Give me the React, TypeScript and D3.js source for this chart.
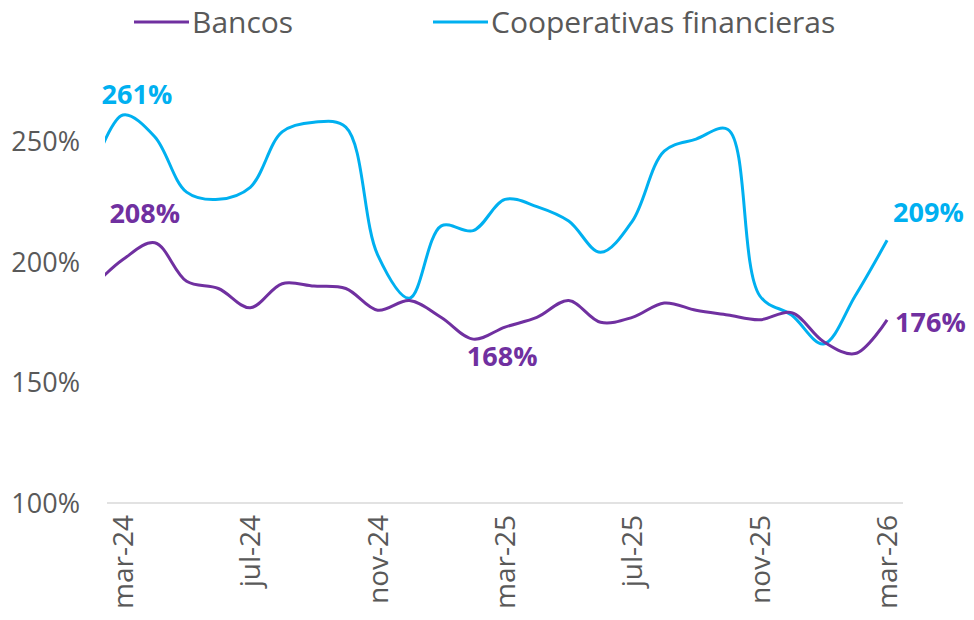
import React from "react";
import * as d3 from "d3";

const months = [
  "feb-24", "mar-24", "abr-24", "may-24", "jun-24", "jul-24", "ago-24", "sep-24", "oct-24",
  "nov-24", "dic-24", "ene-25", "feb-25", "mar-25", "abr-25", "may-25", "jun-25", "jul-25",
  "ago-25", "sep-25", "oct-25", "nov-25", "dic-25", "ene-26", "feb-26", "mar-26",
];
const bancos = [
  189, 201, 208, 192, 189, 181, 191, 190, 189, 180, 184, 177, 168, 173, 177, 184, 175, 177,
  183, 180, 178, 176, 179, 167, 162, 176,
];
const cooperativas = [
  236, 261, 252, 229, 226, 231, 254, 258, 256, 203, 185, 215, 213, 226, 223, 217, 204, 217,
  246, 251, 255, 186, 178, 166, 186, 209,
];
const tickLabels = ["mar-24", "jul-24", "nov-24", "mar-25", "jul-25", "nov-25", "mar-26"];
const yTicks = [100, 150, 200, 250];
const seriesNames = ["Bancos", "Cooperativas financieras"];
const colors = ["#7030A0", "#00B0F0"];

const W = 974;
const H = 620;
const FONT = "'Open Sans', 'DejaVu Sans', sans-serif";

export default function App() {
  const x = d3.scalePoint<string>().domain(months).range([91.06, 887.1]);
  const step = x.step();
  const y = d3.scaleLinear().domain([100, 250]).range([503, 141.5]);
  const line = d3
    .line<number>()
    .x((_, i) => x(months[i]) as number)
    .y((d) => y(d))
    .curve(d3.curveCatmullRom.alpha(0.5));

  const axisStart = (x("mar-24") as number) - step / 2;
  const axisEnd = (x("mar-26") as number) + step / 2;
  const last = months.length - 1;

  const cMaxIdx = d3.maxIndex(cooperativas.slice(0, 3));
  const bMaxIdx = d3.maxIndex(bancos.slice(0, 4));
  const bMinIdx = 12;

  const labelStyle = { fontFamily: FONT, fontWeight: 700, fontSize: 27 } as const;

  return (
    <svg
      width={W}
      height={H}
      style={{ position: "absolute", left: 0, top: 0, background: "#fff" }}
    >
      <defs>
        <clipPath id="plotclip">
          <rect x={105} y={0} width={W - 105} height={H} />
        </clipPath>
      </defs>
      {/* y tick labels */}
      {yTicks.map((t) => (
        <text
          key={t}
          x={80}
          y={y(t)}
          dy="0.37em"
          textAnchor="end"
          fill="#595959"
          style={{ fontFamily: FONT, fontSize: 27 }}
        >
          {t}%
        </text>
      ))}
      {/* x axis line */}
      <line x1={axisStart} x2={axisEnd} y1={y(100)} y2={y(100)} stroke="#D9D9D9" strokeWidth={1.5} />
      {/* x tick labels */}
      {tickLabels.map((m) => (
        <text
          key={m}
          transform={`translate(${x(m)},515) rotate(-90)`}
          dy="0.36em"
          textAnchor="end"
          fill="#595959"
          style={{ fontFamily: FONT, fontSize: 28 }}
        >
          {m}
        </text>
      ))}
      {/* lines */}
      <g clipPath="url(#plotclip)">
        <path d={line(cooperativas) || ""} fill="none" stroke={colors[1]} strokeWidth={3} />
        <path d={line(bancos) || ""} fill="none" stroke={colors[0]} strokeWidth={3} />
      </g>
      {/* data labels */}
      <text
        x={(x(months[cMaxIdx]) as number) + 14}
        y={y(cooperativas[cMaxIdx]) - 11}
        textAnchor="middle"
        fill={colors[1]}
        style={labelStyle}
      >
        {cooperativas[cMaxIdx]}%
      </text>
      <text
        x={(x(months[bMaxIdx]) as number) - 10}
        y={y(bancos[bMaxIdx]) - 20}
        textAnchor="middle"
        fill={colors[0]}
        style={labelStyle}
      >
        {bancos[bMaxIdx]}%
      </text>
      <text
        x={(x(months[bMinIdx]) as number) + 29}
        y={y(bancos[bMinIdx]) + 27}
        textAnchor="middle"
        fill={colors[0]}
        style={labelStyle}
      >
        {bancos[bMinIdx]}%
      </text>
      <text
        x={(x(months[last]) as number) + 6}
        y={y(cooperativas[last]) - 18}
        textAnchor="start"
        fill={colors[1]}
        style={labelStyle}
      >
        {cooperativas[last]}%
      </text>
      <text
        x={(x(months[last]) as number) + 8}
        y={y(bancos[last]) + 12}
        textAnchor="start"
        fill={colors[0]}
        style={labelStyle}
      >
        {bancos[last]}%
      </text>
      {/* legend */}
      {seriesNames.map((name, i) => {
        const lx = i === 0 ? 134 : 433;
        return (
          <g key={name}>
            <line x1={lx} x2={lx + 55} y1={22} y2={22} stroke={colors[i]} strokeWidth={3} />
            <text
              x={lx + 58}
              y={33}
              fill="#595959"
              style={{ fontFamily: FONT, fontSize: 30 }}
            >
              {name}
            </text>
          </g>
        );
      })}
    </svg>
  );
}
